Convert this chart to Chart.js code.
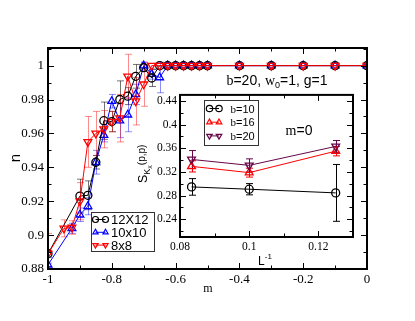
<!DOCTYPE html>
<html><head><meta charset="utf-8">
<script src="https://cdn.jsdelivr.net/npm/chart.js@4.4.0/dist/chart.umd.min.js"></script>
<style>
html,body{margin:0;padding:0;background:#fff;}
#wrap{position:relative;width:415px;height:321px;overflow:hidden;}
#main{position:absolute;left:0;top:0;}
#inset{position:absolute;left:120px;top:85px;}
</style></head><body>
<div id="wrap">
<canvas id="main" width="415" height="321" style="width:415px;height:321px"></canvas>
<canvas id="inset" width="245" height="195" style="width:245px;height:195px"></canvas>
</div>
<script>
// ---------- main panel data: n versus m ----------
const m12 = [-1, -0.9, -0.875, -0.85, -0.825, -0.8, -0.775, -0.75, -0.725, -0.7, -0.675, -0.65, -0.625, -0.6, -0.575, -0.55, -0.525, -0.5, -0.4, -0.3, -0.2, -0.1, 0];
const n12 = [0.889, 0.923, 0.9235, 0.943, 0.9675, 0.967, 0.980, 0.982, 0.9937, 0.9988, 0.9927, 1, 1, 1, 1, 1, 1, 1, 1, 1, 1, 1, 1];
const e12 = [0.002, 0.010, 0.0085, 0.004, 0.011, 0.006, 0.011, 0.005, 0.007, 0.002, 0.005, 0, 0, 0, 0, 0, 0, 0, 0, 0, 0, 0, 0];

const m10 = [-1, -0.925, -0.9, -0.875, -0.85, -0.825, -0.8, -0.775, -0.75, -0.725, -0.7, -0.675, -0.65, -0.625, -0.6, -0.575, -0.55, -0.525, -0.5, -0.4, -0.3, -0.2, -0.1, 0];
const n10 = [0.8825, 0.904, 0.912, 0.917, 0.943, 0.959, 0.979, 0.9675, 0.971, 0.983, 1, 0.995, 0.993, 1, 1, 1, 1, 1, 1, 1, 1, 1, 1, 1];
const e10 = [0.001, 0.003, 0.004, 0.005, 0.007, 0.004, 0.004, 0.010, 0.010, 0.006, 0.002, 0.003, 0.009, 0, 0, 0, 0, 0, 0, 0, 0, 0, 0, 0];

const m8 = [-1, -0.95, -0.925, -0.9, -0.875, -0.85, -0.825, -0.8, -0.775, -0.75, -0.725, -0.7, -0.675, -0.65, -0.625, -0.6, -0.575, -0.55, -0.525, -0.5, -0.4, -0.3, -0.2, -0.1, 0];
const n8 = [0.889, 0.904, 0.9045, 0.920, 0.955, 0.960, 0.9625, 0.967, 0.969, 0.9937, 0.979, 0.989, 1, 1, 1, 1, 1, 1, 1, 1, 1, 1, 1, 1, 1];
const e8 = [0.012, 0.005, 0.004, 0.011, 0.015, 0.013, 0.011, 0.006, 0.014, 0.013, 0.014, 0.013, 0, 0, 0, 0, 0, 0, 0, 0, 0, 0, 0, 0, 0];

const mTicks = [-1, -0.8, -0.6, -0.4, -0.2, 0];
const nTicks = [0.88, 0.9, 0.92, 0.94, 0.96, 0.98, 1];

// ---------- inset data: S_Kx(p,p) versus 1/L ----------
const invL = [1/12, 0.1, 0.125];
const sB10 = [0.2946, 0.2907, 0.2845];
const eB10 = [0.014, 0.0095, 0.048];
const sB16 = [0.3293, 0.3187, 0.355];
const eB16 = [0.0095, 0.0075, 0.008];
const sB20 = [0.341, 0.331, 0.363];
const eB20 = [0.015, 0.011, 0.01];

const invLTicks = [0.08, 0.1, 0.12];
const sTicks = [0.24, 0.28, 0.32, 0.36, 0.4, 0.44];

// ---------- helpers ----------
const SERIF = '"Liberation Serif", "Times New Roman", serif';
const SANS = '"Liberation Sans", Arial, Helvetica, sans-serif';
const pts = (xs, ys) => xs.map((v, i) => ({x: v, y: ys[i]}));

function drawRich(ctx, x, y, parts, align) {
  let w = 0;
  parts.forEach(p => { ctx.font = p.font; p.w = ctx.measureText(p.t).width; w += p.w; });
  let cx = align === 'center' ? x - w / 2 : (align === 'right' ? x - w : x);
  ctx.textAlign = 'left';
  ctx.textBaseline = 'alphabetic';
  parts.forEach(p => { ctx.font = p.font; ctx.fillText(p.t, cx, y + (p.dy || 0)); cx += p.w; });
}

const bgPlugin = {
  id: 'areaBg',
  beforeDatasetsDraw(chart) {
    const a = chart.chartArea, ctx = chart.ctx;
    ctx.save(); ctx.fillStyle = '#fff';
    ctx.fillRect(a.left, a.top, a.right - a.left, a.bottom - a.top);
    ctx.restore();
  }
};

const errPlugin = {
  id: 'errbars',
  beforeDatasetsDraw(chart, args, opts) {
    const ctx = chart.ctx, xs = chart.scales.x, ys = chart.scales.y, a = chart.chartArea;
    ctx.save();
    ctx.beginPath(); ctx.rect(a.left, a.top - 2, a.right - a.left, a.bottom - a.top + 2); ctx.clip();
    chart.data.datasets.forEach(ds => {
      if (!ds.errors) return;
      ctx.strokeStyle = ds.errorColor; ctx.lineWidth = 1;
      ds.data.forEach((p, j) => {
        const e = ds.errors[j]; if (!e) return;
        const px = Math.round(xs.getPixelForValue(p.x)) + 0.5;
        const y1 = ys.getPixelForValue(p.y - e), y2 = ys.getPixelForValue(p.y + e);
        const c = opts.cap || 3.5;
        ctx.beginPath();
        ctx.moveTo(px, y1); ctx.lineTo(px, y2);
        ctx.moveTo(px - c, y1); ctx.lineTo(px + c, y1);
        ctx.moveTo(px - c, y2); ctx.lineTo(px + c, y2);
        ctx.stroke();
      });
    });
    ctx.restore();
  }
};

function tickSet(scale, ms) {
  const out = [];
  const k0 = Math.ceil(scale.min / ms - 1e-6), k1 = Math.floor(scale.max / ms + 1e-6);
  for (let k = k0; k <= k1; k++) out.push({v: k * ms, major: k % 2 === 0});
  return out;
}

const framePlugin = {
  id: 'frame',
  afterDatasetsDraw(chart, args, o) {
    const ctx = chart.ctx, a = chart.chartArea, xs = chart.scales.x, ys = chart.scales.y;
    ctx.save();
    ctx.strokeStyle = '#000'; ctx.lineWidth = 1;
    ctx.beginPath();
    tickSet(xs, o.xMinor).forEach(t => {
      const px = Math.round(xs.getPixelForValue(t.v)) + 0.5;
      const L = t.major ? o.major : o.minor;
      ctx.moveTo(px, a.bottom); ctx.lineTo(px, a.bottom - L);
      ctx.moveTo(px, a.top); ctx.lineTo(px, a.top + L);
    });
    tickSet(ys, o.yMinor).forEach(t => {
      const py = Math.round(ys.getPixelForValue(t.v)) + 0.5;
      const L = t.major ? o.major : o.minor;
      ctx.moveTo(a.left, py); ctx.lineTo(a.left + L, py);
      ctx.moveTo(a.right, py); ctx.lineTo(a.right - L, py);
    });
    ctx.stroke();
    ctx.lineWidth = o.border;
    ctx.strokeRect(a.left, a.top, a.right - a.left, a.bottom - a.top);
    ctx.restore();
  }
};

const legendPlugin = {
  id: 'boxLegend',
  afterDraw(chart, args, o) {
    const ctx = chart.ctx;
    ctx.save();
    ctx.strokeStyle = '#333'; ctx.lineWidth = 1;
    ctx.strokeRect(o.box[0] + 0.5, o.box[1] + 0.5, o.box[2], o.box[3]);
    chart.data.datasets.forEach((ds, i) => {
      const y = o.row0 + i * o.dy;
      ctx.strokeStyle = ds.borderColor; ctx.lineWidth = 1;
      ctx.beginPath(); ctx.moveTo(o.m1, y); ctx.lineTo(o.m2, y); ctx.stroke();
      ctx.fillStyle = 'rgba(0,0,0,0)'; ctx.lineWidth = 1.2;
      const po = {pointStyle: ds.pointStyle, rotation: ds.pointRotation || 0, radius: o.r, borderWidth: 1.2};
      Chart.helpers.drawPoint(ctx, po, o.m1, y);
      Chart.helpers.drawPoint(ctx, po, o.m2, y);
      ctx.fillStyle = '#000';
      drawRich(ctx, o.tx, y + o.base, o.labels[i], 'left');
    });
    ctx.restore();
  }
};

const textPlugin = {
  id: 'texts',
  afterDraw(chart, args, o) {
    const ctx = chart.ctx;
    ctx.save(); ctx.fillStyle = '#000';
    o.items.forEach(it => {
      ctx.save();
      ctx.translate(it.x, it.y);
      if (it.rot) ctx.rotate(it.rot);
      drawRich(ctx, 0, 0, it.parts, it.align || 'center');
      ctx.restore();
    });
    ctx.restore();
  }
};

function ds(label, xs, ys, es, color, errColor, style, rot, order, r) {
  return {
    label, data: pts(xs, ys), errors: es, showLine: true,
    borderColor: color, borderWidth: 1, errorColor: errColor,
    pointStyle: style, pointRotation: rot, pointRadius: r, pointHoverRadius: r,
    pointBorderColor: color, pointBackgroundColor: 'rgba(0,0,0,0)', pointBorderWidth: 1.3,
    order, tension: 0
  };
}

// ---------- main chart ----------
new Chart(document.getElementById('main'), {
  type: 'scatter',
  data: {datasets: [
    ds('12X12', m12, n12, e12, '#000000', 'rgba(0,0,0,0.55)', 'circle', 0, 1, 4),
    ds('10x10', m10, n10, e10, '#0000ff', 'rgba(0,0,255,0.45)', 'triangle', 0, 2, 4.5),
    ds('8x8', m8, n8, e8, '#ff0000', 'rgba(255,0,0,0.45)', 'triangle', 180, 0, 4.5)
  ]},
  options: {
    responsive: false, animation: false, devicePixelRatio: 1,
    layout: {padding: {left: 0, top: 48, right: 48, bottom: 0}},
    scales: {
      x: {type: 'linear', min: -1, max: 0,
        afterBuildTicks: s => { s.ticks = mTicks.map(v => ({value: v})); },
        afterFit: s => { s.height = 52; },
        grid: {display: false, drawTicks: false}, border: {display: false},
        ticks: {font: {family: SERIF, size: 13}, color: '#000', padding: 3, maxRotation: 0, autoSkip: false, callback: v => String(v)}},
      y: {type: 'linear', min: 0.88, max: 1.0104,
        afterBuildTicks: s => { s.ticks = nTicks.map(v => ({value: v})); },
        afterFit: s => { s.width = 48; },
        grid: {display: false, drawTicks: false}, border: {display: false},
        ticks: {font: {family: SERIF, size: 13}, color: '#000', padding: 4, autoSkip: false, callback: v => String(v)}}
    },
    plugins: {
      legend: {display: false}, tooltip: {enabled: false},
      errbars: {cap: 3.5},
      frame: {major: 6, minor: 3.5, border: 2, xMinor: 0.1, yMinor: 0.01},
      boxLegend: {box: [91, 212, 63, 39], row0: 219.5, dy: 12.8, m1: 95.5, m2: 105.5, r: 3, tx: 111, base: 4.5,
        labels: [
          [{t: '12X12', font: '13px ' + SANS}],
          [{t: '10x10', font: '13px ' + SANS}],
          [{t: '8x8', font: '13px ' + SANS}]
        ]},
      texts: {items: [
        {x: 15, y: 158, rot: -Math.PI / 2, parts: [{t: 'n', font: '15px ' + SANS, dy: 5}]},
        {x: 208, y: 292, parts: [{t: 'm', font: '12px ' + SERIF}]},
        {x: 277, y: 85, parts: [
          {t: 'b', font: '14px ' + SERIF}, {t: '=20, ', font: '14px ' + SANS},
          {t: 'w', font: '14px ' + SERIF}, {t: '0', font: '9px ' + SANS, dy: 3},
          {t: '=1, g=1', font: '14px ' + SANS}]}
      ]}
    }
  },
  plugins: [errPlugin, framePlugin, legendPlugin, textPlugin]
});

// ---------- inset chart ----------
new Chart(document.getElementById('inset'), {
  type: 'scatter',
  data: {datasets: [
    ds('b=10', invL, sB10, eB10, '#000000', '#000000', 'circle', 0, 2, 4),
    ds('b=16', invL, sB16, eB16, '#ff0000', '#ff0000', 'triangle', 0, 1, 4.5),
    ds('b=20', invL, sB20, eB20, 'rgb(103,7,72)', 'rgb(103,7,72)', 'triangle', 180, 0, 4.5)
  ]},
  options: {
    responsive: false, animation: false, devicePixelRatio: 1,
    layout: {padding: {left: 0, top: 9, right: 12, bottom: 0}},
    scales: {
      x: {type: 'linear', min: 0.08, max: 0.13,
        afterBuildTicks: s => { s.ticks = invLTicks.map(v => ({value: v})); },
        afterFit: s => { s.height = 43; },
        grid: {display: false, drawTicks: false}, border: {display: false},
        ticks: {font: {family: SERIF, size: 11.5}, color: '#000', padding: 3, maxRotation: 0, autoSkip: false, callback: v => String(v)}},
      y: {type: 'linear', min: 0.21, max: 0.45,
        afterBuildTicks: s => { s.ticks = sTicks.map(v => ({value: v})); },
        afterFit: s => { s.width = 60; },
        grid: {display: false, drawTicks: false}, border: {display: false},
        ticks: {font: {family: SERIF, size: 11.5}, color: '#000', padding: 3, autoSkip: false, callback: v => String(v)}}
    },
    plugins: {
      legend: {display: false}, tooltip: {enabled: false},
      errbars: {cap: 3.5},
      frame: {major: 6, minor: 3.5, border: 2, xMinor: 0.01, yMinor: 0.02},
      boxLegend: {box: [84, 15, 54, 45], row0: 23.5, dy: 13.7, m1: 89.5, m2: 99, r: 3.2, tx: 110.5, base: 4,
        labels: [
          [{t: 'b', font: '11px ' + SERIF}, {t: '=10', font: '11px ' + SANS}],
          [{t: 'b', font: '11px ' + SERIF}, {t: '=16', font: '11px ' + SANS}],
          [{t: 'b', font: '11px ' + SERIF}, {t: '=20', font: '11px ' + SANS}]
        ]},
      texts: {items: [
        {x: 179, y: 50, parts: [{t: 'm', font: '14px ' + SERIF}, {t: '=0', font: '14px ' + SANS}]},
        {x: 145, y: 180, parts: [{t: 'L', font: '12px ' + SANS}, {t: '-1', font: '8px ' + SANS, dy: -6}]},
        {x: 27, y: 98, rot: -Math.PI / 2, align: 'left', parts: [
          {t: 'S', font: '12.5px ' + SANS}, {t: 'K', font: '9px ' + SANS, dy: 3},
          {t: 'x', font: '7px ' + SANS, dy: 5}, {t: '(p,p)', font: '10px ' + SANS, dy: -2}]}
      ]}
    }
  },
  plugins: [bgPlugin, errPlugin, framePlugin, legendPlugin, textPlugin]
});
</script>
</body></html>
